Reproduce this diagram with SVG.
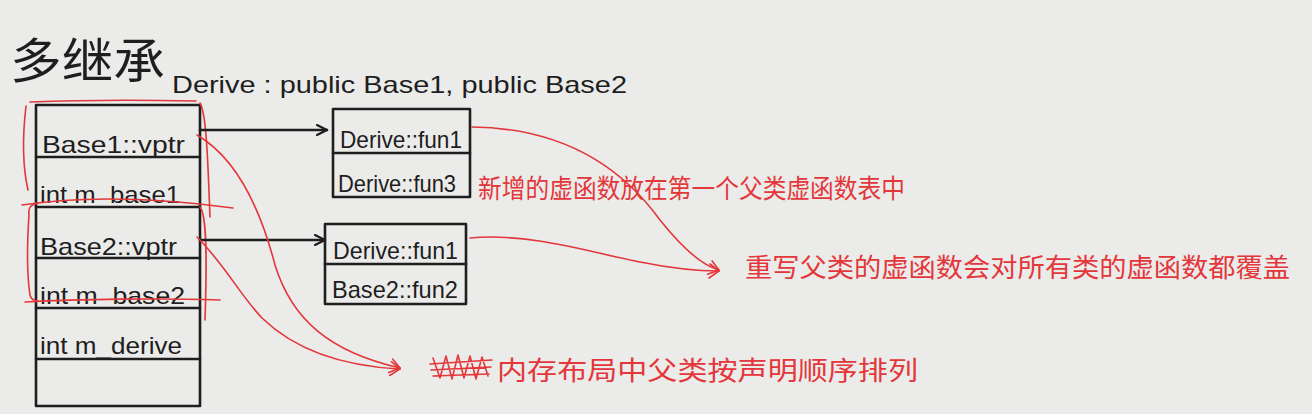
<svg xmlns="http://www.w3.org/2000/svg" width="1312" height="414" viewBox="0 0 1312 414">
  <defs>
    <style>
      .ink { fill: none; stroke: #1e1e1e; stroke-width: 2.6; stroke-linecap: round; stroke-linejoin: round; }
      .red { fill: none; stroke: #e3373b; stroke-width: 1.6; stroke-linecap: round; stroke-linejoin: round; }
      .lat { font-family: "Liberation Sans", "DejaVu Sans", sans-serif; fill: #1e1e1e; font-size: 24px; }
      .cjk { font-family: "Noto Sans CJK SC", "Noto Sans", sans-serif; }
      .note { font-family: "Noto Sans CJK SC", sans-serif; fill: #e3373b; font-size: 26px; }
    </style>
    <marker id="blackhead" viewBox="0 0 12 12" refX="11" refY="6" markerWidth="12" markerHeight="12" markerUnits="userSpaceOnUse" orient="auto">
      <path d="M1,1 L11,6 L1,11" fill="none" stroke="#1e1e1e" stroke-width="2.2" stroke-linecap="round"/>
    </marker>
    <marker id="redhead" viewBox="0 0 12 16" refX="11" refY="8" markerWidth="12" markerHeight="16" markerUnits="userSpaceOnUse" orient="auto">
      <path d="M2,1 L11,8 L1,15" fill="none" stroke="#e3373b" stroke-width="1.6" stroke-linecap="round"/>
    </marker>
  </defs>

  <rect x="0" y="0" width="1312" height="414" fill="#ebebe9"/>

  <g id="title">
    <text class="cjk" x="10" y="78" font-size="48" fill="#1e1e1e" textLength="155" lengthAdjust="spacingAndGlyphs">多继承</text>
  </g>

  <g id="header">
    <text class="lat" x="172" y="93" font-size="31" textLength="455" lengthAdjust="spacingAndGlyphs">Derive : public Base1, public Base2</text>
  </g>

  <g id="derive-layout">
    <rect class="ink" x="36" y="105" width="164" height="301"/>
    <path class="ink" d="M36,157 H200 M36,207 H200 M36,258 H200 M36,308 H200 M36,359 H200"/>
    <text class="lat" x="42" y="153" textLength="143" lengthAdjust="spacingAndGlyphs">Base1::vptr</text>
    <text class="lat" x="40" y="203" textLength="140" lengthAdjust="spacingAndGlyphs">int m_base1</text>
    <text class="lat" x="40" y="255" textLength="137" lengthAdjust="spacingAndGlyphs">Base2::vptr</text>
    <text class="lat" x="40" y="304" textLength="145" lengthAdjust="spacingAndGlyphs">int m_base2</text>
    <text class="lat" x="40" y="354" textLength="142" lengthAdjust="spacingAndGlyphs">int m_derive</text>
  </g>

  <g id="vtable-base1">
    <rect class="ink" x="333" y="109" width="137" height="88"/>
    <path class="ink" d="M333,153 H470"/>
    <text class="lat" x="340" y="148" textLength="122" lengthAdjust="spacingAndGlyphs">Derive::fun1</text>
    <text class="lat" x="338" y="192" textLength="118" lengthAdjust="spacingAndGlyphs">Derive::fun3</text>
  </g>

  <g id="vtable-base2">
    <rect class="ink" x="325" y="224" width="141" height="80"/>
    <path class="ink" d="M325,264 H466"/>
    <text class="lat" x="333" y="259" textLength="125" lengthAdjust="spacingAndGlyphs">Derive::fun1</text>
    <text class="lat" x="332" y="298" textLength="126" lengthAdjust="spacingAndGlyphs">Base2::fun2</text>
  </g>

  <g id="group-brackets">
    <path class="red" d="M30,102 C80,100 150,100 196,101"/>
    <path class="red" d="M26,106 C22,140 23,168 28,190"/>
    <path class="red" d="M200,103 C207,115 208,170 210,217"/>
    <path class="red" d="M22,205 C80,196 150,197 233,208"/>
    <path class="red" d="M38,203 C30,205 28,208 29,215 C27,245 27,275 30,295 C31,299 34,301 38,301"/>
    <path class="red" d="M200,207 C207,215 207,260 205,320"/>
    <path class="red" d="M25,302 C80,299 160,298 220,300"/>
  </g>

  <g id="note-new-virtual">
    <text class="note" x="478" y="198" font-size="25" textLength="427" lengthAdjust="spacingAndGlyphs">新增的虚函数放在第一个父类虚函数表中</text>
  </g>

  <g id="note-override">
    <text class="note" x="745" y="277" font-size="27" textLength="545" lengthAdjust="spacingAndGlyphs">重写父类的虚函数会对所有类的虚函数都覆盖</text>
  </g>

  <g id="note-order">
    <path class="red" stroke-width="2.2" d="M433,358 L440,378 L446,356 L452,379 L458,355 L464,378 L470,356 L476,379 L482,357 L488,376 M430,364 L492,360 M431,370 L491,367 M433,376 L489,374"/>
    <text class="note" x="497" y="380" font-size="28" textLength="421" lengthAdjust="spacingAndGlyphs">内存布局中父类按声明顺序排列</text>
  </g>

  <g id="connectors">
    <path class="ink" d="M200,130 L327,130" marker-end="url(#blackhead)"/>
    <path class="ink" d="M200,240 L325,240" marker-end="url(#blackhead)"/>
    <path class="red" d="M197,135 C240,160 262,215 275,265 C292,320 330,352 400,368" marker-end="url(#redhead)"/>
    <path class="red" d="M197,237 C225,265 240,295 262,318 C295,350 340,366 400,369" marker-end="url(#redhead)"/>
    <path class="red" d="M472,127 C560,128 620,165 660,220 C680,245 700,265 719,270" marker-end="url(#redhead)"/>
    <path class="red" d="M470,238 C530,232 600,255 640,262 C670,268 695,271 719,271" marker-end="url(#redhead)"/>
  </g>
</svg>
